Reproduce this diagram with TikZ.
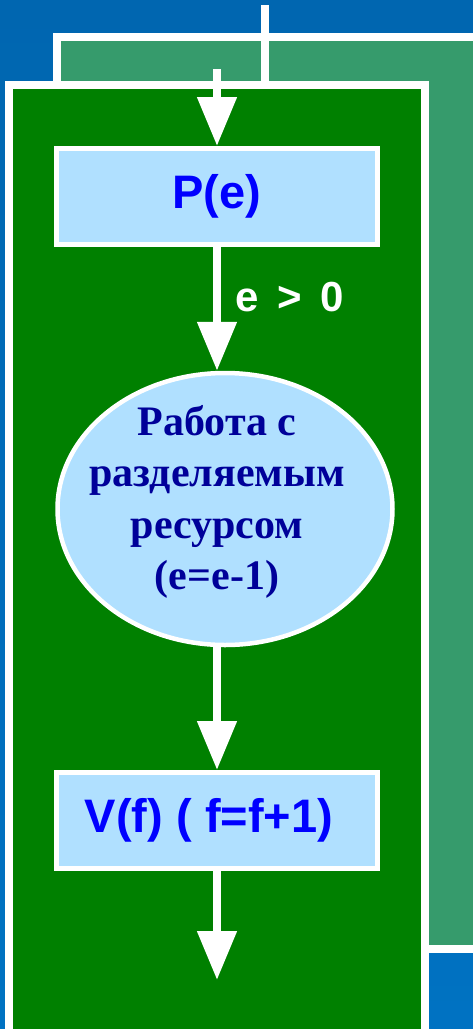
\documentclass[tikz,border=0pt]{standalone}
\usepackage{fontspec}
\setmainfont{Liberation Sans}
\newfontfamily\rusfont{Liberation Serif}
\usetikzlibrary{shapes.geometric,arrows.meta}

\definecolor{bgblue}{RGB}{0,102,176}
\definecolor{bgblue2}{RGB}{0,114,194}
\definecolor{teal}{RGB}{54,155,108}
\definecolor{deepgreen}{RGB}{0,128,0}
\definecolor{boxfill}{RGB}{176,224,255}
\definecolor{boxtext}{RGB}{0,0,255}
\definecolor{navytext}{RGB}{0,0,153}

\begin{document}
\begin{tikzpicture}[x=1pt, y=1pt,
    opbox/.style={draw=white, line width=5pt, fill=boxfill,
                  minimum width=321pt, minimum height=96pt, inner sep=0pt,
                  text=boxtext, font=\fontsize{47}{56}\selectfont\bfseries},
    workoval/.style={ellipse, draw=white, line width=4.5pt, fill=boxfill,
                     minimum width=335pt, minimum height=272pt, inner sep=0pt},
    flow/.style={-{Triangle[width=38pt,length=49pt]}, white, line width=8pt}
  ]
  \useasboundingbox (0,0) rectangle (473,-1029);
  % Panels
  \shade[top color=bgblue, bottom color=bgblue2] (0,0) rectangle (473,-1029);
  \draw[white, line width=8pt, fill=teal] (57,-37) rectangle (477,-949);
  \draw[white, line width=8pt] (265,-5) -- (265,-85);
  \draw[white, line width=8pt, fill=deepgreen] (9,-85) rectangle (425,-1033);
  % Nodes
  \coordinate (in) at (217,-69);
  \node[opbox] (P) at (217,-196.5) {P(e)};
  \node[workoval, label={[xshift=-8pt, yshift=7pt, align=center, text=navytext,
        font=\rusfont\fontsize{42}{51.5}\selectfont\bfseries]center:{Работа с\\разделяемым\\ресурсом\\(e=e-1)}}]
        (work) at (225,-509) {};
  \node[opbox] (V) at (217,-820.5) {\hspace*{-16pt}V(f) ( f=f+1)};
  \coordinate (out) at (217,-980);
  % Arrows
  \draw[flow] (in) -- (P);
  \draw[flow] (P.south) -- node[pos=0.52, anchor=base west, xshift=14pt, inner sep=0pt,
        font=\fontsize{42}{50}\selectfont\bfseries]{e \,>\, 0} (P.south |- work.north);
  \draw[flow] (work.south -| P.south) -- (V);
  \draw[flow] (V) -- (out);
\end{tikzpicture}
\end{document}
